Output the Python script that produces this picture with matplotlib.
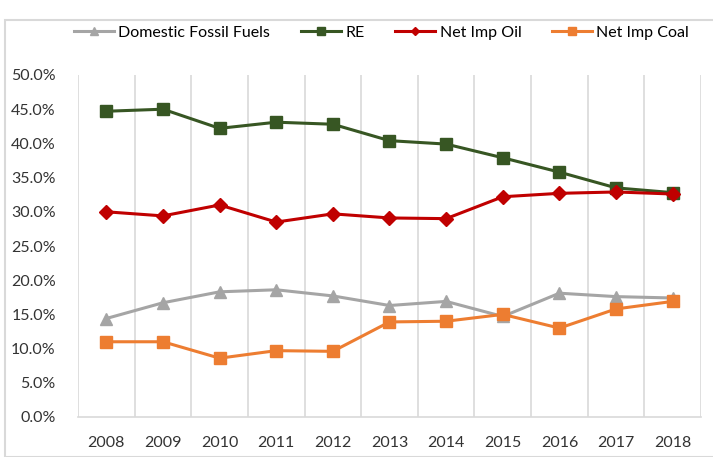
import matplotlib.pyplot as plt
from matplotlib.patches import Rectangle

years = ['2008', '2009', '2010', '2011', '2012', '2013', '2014', '2015', '2016', '2017', '2018']
domestic = [14.4, 16.7, 18.3, 18.6, 17.7, 16.3, 16.9, 14.7, 18.1, 17.6, 17.4]
re_share = [44.7, 45.0, 42.2, 43.1, 42.8, 40.4, 39.9, 37.9, 35.8, 33.5, 32.8]
imp_oil = [30.0, 29.4, 31.0, 28.5, 29.7, 29.1, 29.0, 32.2, 32.7, 32.9, 32.6]
imp_coal = [11.0, 11.0, 8.6, 9.7, 9.6, 13.9, 14.0, 15.0, 13.0, 15.8, 16.9]

plt.rcParams['font.family'] = ['Lato', 'DejaVu Sans']

fig = plt.figure(figsize=(7.13, 4.57), dpi=100)
# chart frame
fig.patches.append(Rectangle((5 / 713, 0), 1, 1 - 20 / 457, transform=fig.transFigure,
                             fill=False, edgecolor='#d9d9d9', linewidth=1.5))
ax = fig.add_axes([78 / 713, 1 - 417 / 457, 623 / 713, 342 / 457])

x = range(len(years))
ax.plot(x, domestic, color='#a5a5a5', lw=2.2, marker='^', ms=9, label='Domestic Fossil Fuels', zorder=3)
ax.plot(x, re_share, color='#375623', lw=2.2, marker='s', ms=9, label='RE', zorder=3)
ax.plot(x, imp_oil, color='#c00000', lw=2.2, marker='D', ms=7, label='Net Imp Oil', zorder=4)
ax.plot(x, imp_coal, color='#ed7d31', lw=2.2, marker='s', ms=9, label='Net Imp Coal', zorder=4)

for b in range(len(years) + 1):
    ax.axvline(b - 0.5, color='#d9d9d9', lw=1.2, zorder=1)

ax.set_xlim(-0.5, len(years) - 0.5)
ax.set_ylim(0, 50)
ax.set_yticks(range(0, 51, 5))
ax.set_yticklabels([f'{v:.1f}%' for v in range(0, 51, 5)])
ax.set_xticks(list(x))
ax.set_xticklabels(years)
ax.tick_params(axis='both', length=0, labelsize=11.5, colors='#333333')
ax.tick_params(axis='x', pad=14)
ax.tick_params(axis='y', pad=16)
for s in ['top', 'right', 'left']:
    ax.spines[s].set_visible(False)
ax.spines['bottom'].set_color('#d9d9d9')
ax.spines['bottom'].set_linewidth(1.2)

fig.legend(loc='center', bbox_to_anchor=(0.535, 1 - 33 / 457), ncol=4, frameon=False,
           fontsize=11.5, markerscale=0.6, handlelength=2.5, columnspacing=1.9, handletextpad=0.3)

fig.savefig('out.png', dpi=100)
